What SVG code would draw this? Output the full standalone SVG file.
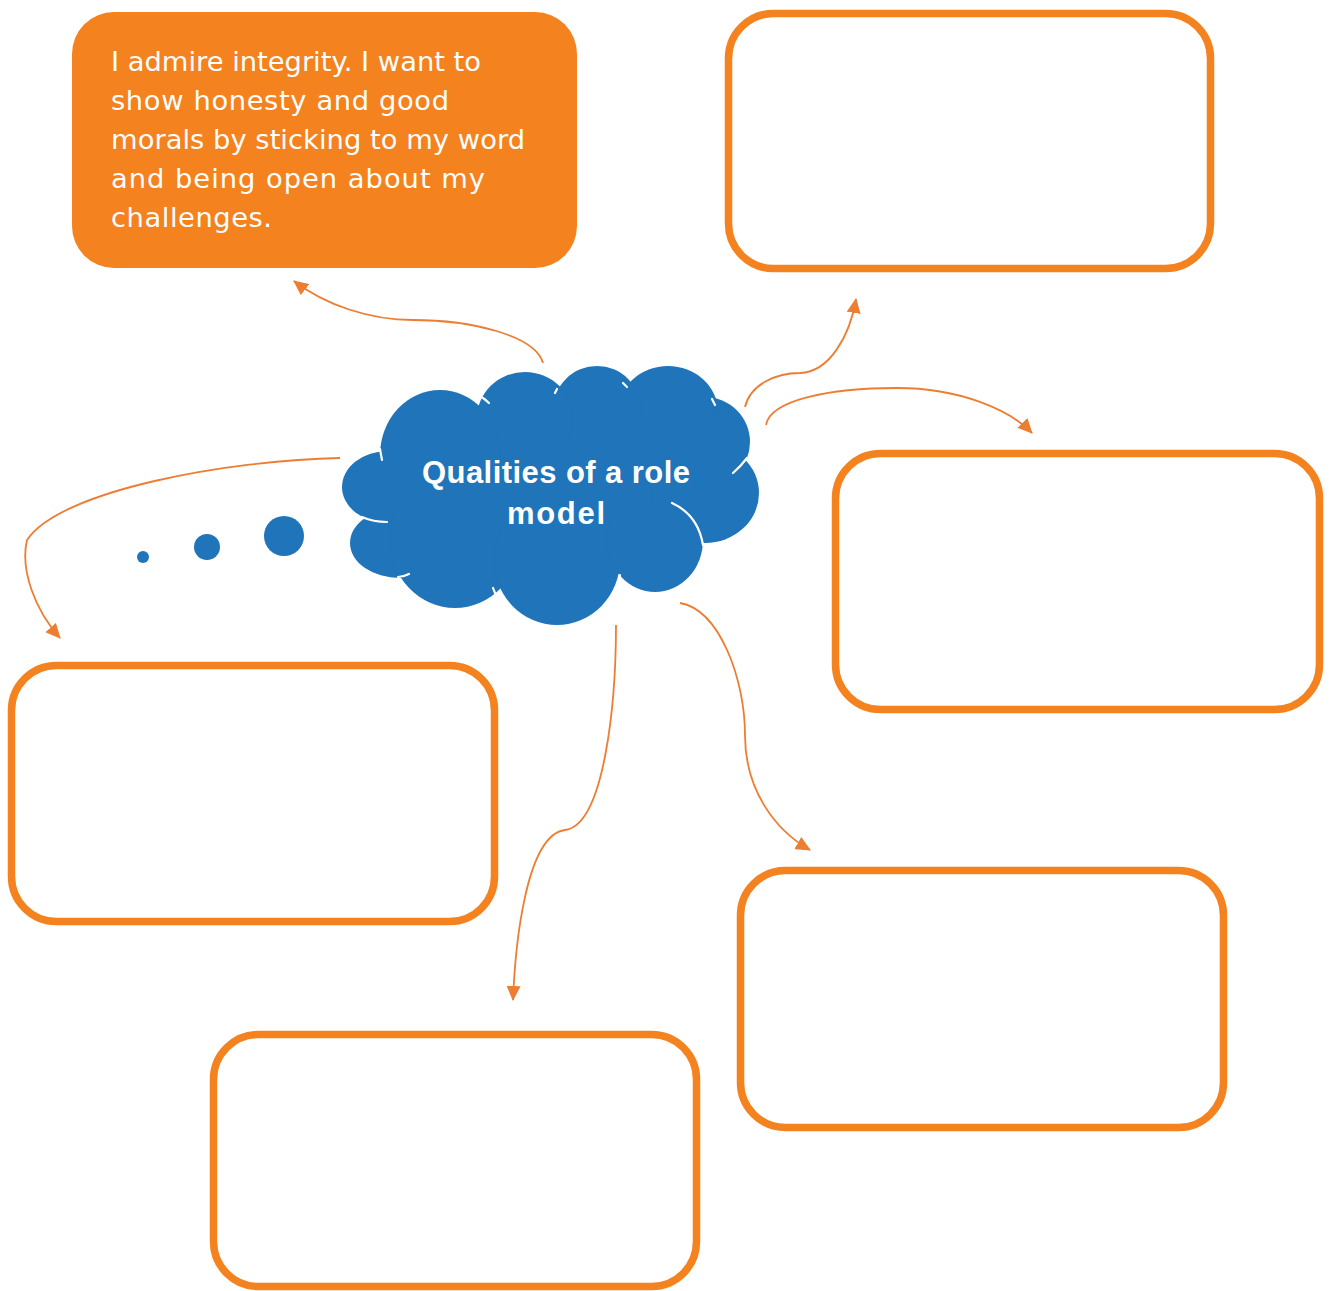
<svg xmlns="http://www.w3.org/2000/svg" width="1332" height="1291" viewBox="0 0 1332 1291">
  <style>
    .box { fill: #ffffff; stroke: #F4821F; stroke-width: 7.5; }
    .filled { fill: #F4821F; }
    .cloud { fill: #1F74BA; }
    .crease { fill: none; stroke: #ffffff; stroke-width: 2.2; stroke-linecap: round; }
    .link { fill: none; stroke: #ED7D31; stroke-width: 1.8; }
    .body { font-family: "DejaVu Sans", "Liberation Sans", sans-serif; font-size: 27.3px; fill: #ffffff; }
    .title { font-family: "Liberation Sans", "DejaVu Sans", sans-serif; font-size: 31px; font-weight: bold; fill: #ffffff; }
  </style>
  <defs>
    <marker id="arrow" markerUnits="userSpaceOnUse" markerWidth="16" markerHeight="14" refX="14" refY="7" orient="auto">
      <path d="M0,0 L15,7 L0,14 Z" fill="#ED7D31"/>
    </marker>
  </defs>
  <rect width="1332" height="1291" fill="#ffffff"/>

  <!-- connectors from the central idea -->
  <g id="connectors">
    <path class="link" marker-end="url(#arrow)" d="M543,363 C535,335 470,320 413,320 C370,320 325,305 294,281"/>
    <path class="link" marker-end="url(#arrow)" d="M745,407 C750,385 775,373 800,373 C830,372 850,335 856,299"/>
    <path class="link" marker-end="url(#arrow)" d="M766,425 C770,400 830,388 897,388 C960,388 1010,410 1032,433"/>
    <path class="link" marker-end="url(#arrow)" d="M340,458 C230,460 60,490 27,540 C20,570 35,610 60,638"/>
    <path class="link" marker-end="url(#arrow)" d="M616,625 C616,700 605,825 565,830 C525,835 515,950 513,1000"/>
    <path class="link" marker-end="url(#arrow)" d="M680,603 C720,610 745,680 745,735 C745,790 775,830 810,850"/>
  </g>

  <!-- thought bubbles -->
  <g id="bubbles" class="cloud">
    <circle cx="143" cy="557" r="6"/>
    <circle cx="207" cy="547" r="13"/>
    <circle cx="284" cy="536" r="20"/>
  </g>

  <!-- central cloud -->
  <g id="centre">
    <g class="cloud">
      <ellipse cx="550" cy="490" rx="170" ry="80"/>
      <ellipse cx="388" cy="487" rx="46" ry="36"/>
      <ellipse cx="400" cy="543" rx="50" ry="35"/>
      <ellipse cx="455" cy="540" rx="65" ry="68"/>
      <ellipse cx="557" cy="560" rx="63" ry="65"/>
      <ellipse cx="655" cy="540" rx="48" ry="52"/>
      <ellipse cx="705" cy="493" rx="54" ry="50"/>
      <ellipse cx="705" cy="442" rx="45" ry="45"/>
      <ellipse cx="668" cy="412" rx="50" ry="46"/>
      <ellipse cx="597" cy="410" rx="44" ry="44"/>
      <ellipse cx="525" cy="418" rx="48" ry="46"/>
      <ellipse cx="440" cy="455" rx="60" ry="65"/>
    </g>
    <path class="crease" d="M380,449 Q381,455 382,460"/>
    <path class="crease" d="M362,517 Q373,522 387,522"/>
    <path class="crease" d="M398,577 Q403,577 409,574"/>
    <path class="crease" d="M493,588 Q495,594 498,598"/>
    <path class="crease" d="M620,575 Q619,581 617,587"/>
    <path class="crease" d="M672,503 Q698,515 703,545"/>
    <path class="crease" d="M733,473 Q741,466 747,458"/>
    <path class="crease" d="M712,399 L715,405"/>
    <path class="crease" d="M623,383 L627,387"/>
    <path class="crease" d="M557,389 L555,393"/>
    <path class="crease" d="M478,395 Q484,398 489,403"/>
    <text class="title" x="556" y="483" text-anchor="middle" textLength="268">Qualities of a role</text>
    <text class="title" x="556" y="524" text-anchor="middle" textLength="98">model</text>
  </g>

  <!-- answer boxes -->
  <g id="box-integrity">
    <rect class="filled" x="72" y="12" width="505" height="256" rx="42"/>
    <text class="body" x="111" y="71" textLength="370">I admire integrity. I want to</text>
    <text class="body" x="111" y="110" textLength="338">show honesty and good</text>
    <text class="body" x="111" y="149" textLength="414">morals by sticking to my word</text>
    <text class="body" x="111" y="188" textLength="374">and being open about my</text>
    <text class="body" x="111" y="227" textLength="161">challenges.</text>
  </g>
  <g id="box-top-right">
    <rect class="box" x="728.5" y="13.5" width="482" height="255" rx="45"/>
  </g>
  <g id="box-right">
    <rect class="box" x="835.5" y="453.5" width="484" height="256" rx="45"/>
  </g>
  <g id="box-left">
    <rect class="box" x="11.5" y="665.5" width="483" height="256" rx="45"/>
  </g>
  <g id="box-bottom-right">
    <rect class="box" x="740.5" y="870.5" width="483" height="257" rx="45"/>
  </g>
  <g id="box-bottom">
    <rect class="box" x="213.5" y="1034.5" width="483" height="252" rx="45"/>
  </g>
</svg>
